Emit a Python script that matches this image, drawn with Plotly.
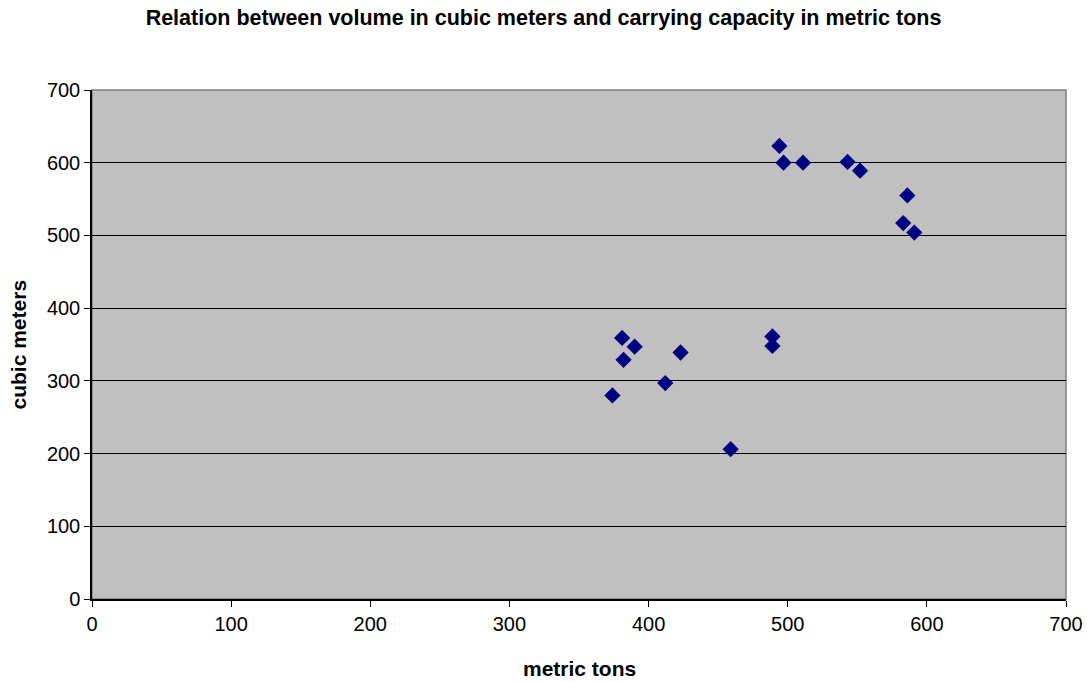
import plotly.graph_objects as go

# Data
metric_tons = [381, 390, 382, 423, 412, 374, 459, 489, 489,
               494, 497, 511, 543, 552, 586, 583, 591]
cubic_meters = [359, 347, 329, 339, 297, 280, 206, 361, 348,
                623, 600, 600, 601, 589, 555, 517, 504]

title_text = "Relation between volume in cubic meters and carrying capacity in metric tons"
x_title = "metric tons"
y_title = "cubic meters"
tick_vals = [0, 100, 200, 300, 400, 500, 600, 700]

FONT = "Liberation Sans, Arial, sans-serif"
W, H = 1087, 682
ML, MR, MT, MB = 92, 21, 90, 83
PW, PH = W - ML - MR, H - MT - MB

fig = go.Figure()
fig.add_trace(go.Scatter(
    x=metric_tons, y=cubic_meters, mode="markers",
    marker=dict(symbol="diamond", size=12.5, color="#000080",
                line=dict(width=0)),
    showlegend=False,
))

fig.update_layout(
    width=W, height=H,
    paper_bgcolor="white", plot_bgcolor="#C0C0C0",
    margin=dict(l=ML, r=MR, t=MT, b=MB, autoexpand=False),
    title=dict(text="<b>" + title_text + "</b>", x=0.5, xanchor="center",
               xref="container",
               y=1 - 17 / H, yanchor="middle",
               font=dict(family=FONT, size=21.5, color="black")),
    font=dict(family=FONT, color="black"),
    xaxis=dict(range=[0, 700], tickvals=tick_vals, showgrid=False,
               zeroline=False, showline=True, linecolor="black", linewidth=1.5,
               ticks="outside", ticklen=6, tickcolor="black",
               tickfont=dict(size=20), automargin=False),
    yaxis=dict(range=[0, 700], tickvals=tick_vals, showgrid=True,
               gridcolor="black", gridwidth=1,
               zeroline=False, showline=True, linecolor="black", linewidth=1.5,
               ticks="outside", ticklen=6, tickcolor="black",
               tickfont=dict(size=20), automargin=False),
    annotations=[
        dict(text="<b>" + x_title + "</b>", xref="paper", yref="paper",
             x=0.5, y=(0 - (668 - (H - MB))) / PH, xanchor="center",
             yanchor="middle", showarrow=False, font=dict(size=21)),
        dict(text="<b>" + y_title + "</b>", xref="paper", yref="paper",
             x=(18 - ML) / PW, y=0.5, xanchor="center", yanchor="middle",
             textangle=-90, showarrow=False, font=dict(size=21)),
    ],
)

# Gray frame on top and right of the plot area
fig.add_shape(type="rect", xref="paper", yref="paper", x0=0, y0=0, x1=1, y1=1,
              line=dict(color="#808080", width=1.5), fillcolor="rgba(0,0,0,0)",
              layer="below")

fig.write_html("out.html",
               config={"displayModeBar": False},
               post_script="document.body.style.margin='0';document.body.style.overflow='hidden';")
